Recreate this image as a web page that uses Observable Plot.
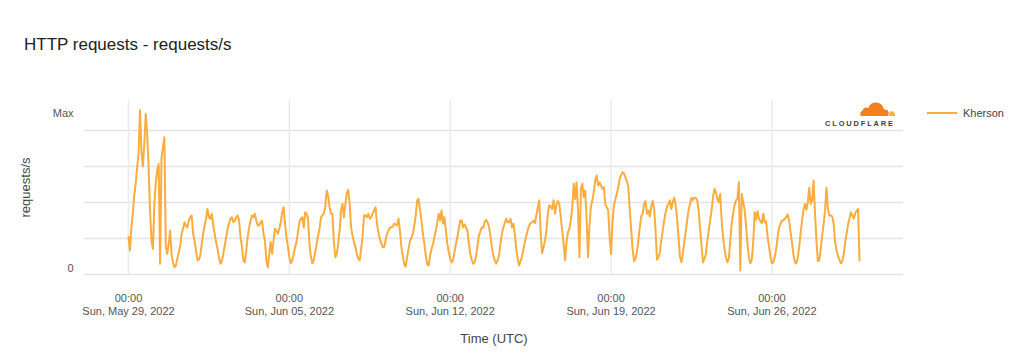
<!DOCTYPE html>
<html><head><meta charset="utf-8">
<script src="https://cdn.jsdelivr.net/npm/d3@7"></script>
<script src="https://cdn.jsdelivr.net/npm/@observablehq/plot@0.6"></script>
<style>
body{margin:0;background:#fff;font-family:"Liberation Sans",Arial,sans-serif;}
#wrap{position:relative;width:1020px;height:360px;overflow:hidden;}
#title{position:absolute;left:24px;top:35px;font-size:17px;color:#222;white-space:nowrap;}
#chart{position:absolute;left:0;top:0;}
#legend{position:absolute;left:927px;top:107px;font-size:11px;color:#444;display:flex;align-items:center;}
#legend .sw{width:30px;height:2px;background:#faad3f;margin-right:6px;}
#logo{position:absolute;left:822px;top:100px;}
</style></head><body>
<div id="wrap">
<div id="title">HTTP requests - requests/s</div>
<div id="chart"></div>
<div id="legend"></div>
<div id="logo">
<svg width="80" height="30" viewBox="0 0 80 30">
<path d="M39,16 L66,16 C68,12 66,9 62,9.5 C61,4.5 57,2 53,2.5 C49,3 47,5.5 46.5,8 C44,6.5 40.5,8 40.5,11 C38.5,11 37.5,13.5 39,16 Z" fill="#f38020"/>
<path d="M66.5,16 L73,16 C73.5,13 71.5,11 69,11.2 C68.4,11.3 68,11.5 67.8,12 C67.6,13.5 67.2,15 66.5,16 Z" fill="#faae40"/>
<text x="3" y="26" font-family="Liberation Sans, Arial, sans-serif" font-size="7.4" font-weight="bold" letter-spacing="1.9" fill="#404041">CLOUDFLARE</text>
</svg>
</div>
</div>
<script>
const seriesName = "Kherson";
const startTime = "2022-05-29T00:00:00Z";
const stepMinutes = 90;
// relative request rate (Max ≈ 4.57), one value every 1.5 hours (UTC), from May 29 00:00
const requests = [
  // May 29
  1.05, 0.67, 1.31, 1.69, 2.2, 2.52, 2.98, 3.35, 4.57, 3.44, 3.0, 3.63, 4.46, 3.91, 2.98, 1.78,
  // May 30
  0.94, 0.71, 1.96, 2.52, 2.89, 3.07, 0.3, 3.26, 3.54, 3.81, 0.76, 0.57, 0.85, 1.22, 0.53, 0.34,
  // May 31
  0.2, 0.25, 0.44, 0.62, 0.8, 1.13, 1.27, 1.45, 1.36, 1.31, 1.5, 1.59, 1.64, 1.13, 0.94, 0.67,
  // Jun 01
  0.39, 0.41, 0.53, 0.85, 1.13, 1.36, 1.55, 1.82, 1.59, 1.55, 1.69, 1.36, 1.13, 0.9, 0.71, 0.48,
  // Jun 02
  0.3, 0.37, 0.57, 0.8, 1.04, 1.27, 1.43, 1.55, 1.59, 1.45, 1.5, 1.59, 1.64, 1.5, 1.04, 0.76,
  // Jun 03
  0.39, 0.34, 0.67, 1.04, 1.31, 1.5, 1.64, 1.59, 1.69, 1.5, 1.36, 1.36, 1.45, 1.5, 1.13, 0.94,
  // Jun 04
  0.39, 0.2, 0.57, 0.9, 0.57, 0.94, 1.27, 1.22, 1.13, 1.27, 1.45, 1.73, 1.87, 1.41, 1.04, 0.76,
  // Jun 05
  0.48, 0.31, 0.39, 0.57, 0.76, 0.9, 1.18, 1.45, 1.55, 1.59, 1.31, 1.73, 1.69, 1.55, 0.85, 0.5,
  // Jun 06
  0.31, 0.39, 0.62, 0.85, 1.08, 1.27, 1.59, 1.64, 1.69, 1.87, 2.33, 2.19, 1.87, 1.69, 1.69, 0.9,
  // Jun 07
  0.48, 0.56, 0.85, 1.22, 1.78, 1.96, 1.59, 1.96, 2.26, 2.35, 1.96, 1.31, 1.08, 0.9, 0.76, 0.57,
  // Jun 08
  0.44, 0.39, 0.71, 1.08, 1.64, 1.64, 1.59, 1.69, 1.55, 1.59, 1.69, 1.78, 1.87, 1.41, 1.18, 0.99,
  // Jun 09
  0.87, 0.76, 0.76, 0.96, 1.13, 1.22, 1.3, 1.31, 1.33, 1.41, 1.39, 1.36, 1.55, 1.22, 0.76, 0.53,
  // Jun 10
  0.28, 0.22, 0.48, 0.71, 0.94, 1.02, 1.13, 1.36, 1.64, 2.06, 2.1, 1.78, 1.5, 1.13, 0.85, 0.53,
  // Jun 11
  0.28, 0.25, 0.53, 0.71, 0.85, 1.04, 1.22, 1.45, 1.69, 1.5, 1.78, 1.41, 1.59, 1.22, 0.85, 0.62,
  // Jun 12
  0.44, 0.34, 0.41, 0.62, 0.85, 1.04, 1.27, 1.5, 1.5, 1.31, 1.39, 1.31, 1.22, 0.85, 0.57, 0.41,
  // Jun 13
  0.3, 0.34, 0.5, 0.8, 1.08, 1.2, 1.31, 1.3, 1.45, 1.52, 1.45, 1.33, 1.08, 0.76, 0.53, 0.39,
  // Jun 14
  0.3, 0.39, 0.53, 0.85, 1.13, 1.3, 1.43, 1.55, 1.45, 1.45, 1.55, 1.31, 1.41, 1.13, 0.71, 0.44,
  // Jun 15
  0.25, 0.37, 0.5, 0.71, 0.9, 1.08, 1.24, 1.36, 1.43, 1.45, 1.5, 1.43, 1.64, 1.87, 2.06, 1.13,
  // Jun 16
  0.59, 0.76, 0.94, 1.22, 1.69, 1.92, 1.89, 1.82, 2.06, 1.69, 1.94, 2.04, 1.96, 1.59, 1.22, 0.85,
  // Jun 17
  0.4, 0.9, 1.18, 1.27, 1.5, 1.87, 2.52, 2.1, 2.56, 1.78, 0.48, 2.38, 2.52, 2.15, 2.33, 1.5,
  // Jun 18
  0.48, 1.36, 1.89, 2.06, 2.29, 2.63, 2.75, 2.47, 2.56, 2.47, 2.38, 2.43, 1.96, 1.87, 1.78, 1.04,
  // Jun 19
  0.57, 1.45, 1.92, 2.09, 2.24, 2.41, 2.65, 2.76, 2.84, 2.81, 2.69, 2.59, 2.43, 1.82, 1.27, 0.71,
  // Jun 20
  0.37, 0.44, 0.62, 0.94, 1.31, 1.61, 1.69, 1.96, 2.04, 1.69, 1.78, 1.61, 1.89, 2.04, 1.82, 1.22,
  // Jun 21
  0.41, 0.48, 0.62, 0.94, 1.22, 1.5, 1.73, 1.89, 1.96, 2.06, 1.82, 2.01, 2.13, 1.92, 1.55, 1.04,
  // Jun 22
  0.48, 0.34, 0.57, 0.9, 1.18, 1.5, 1.8, 1.96, 2.13, 2.07, 2.13, 2.13, 2.06, 1.78, 1.27, 0.81,
  // Jun 23
  0.34, 0.44, 0.56, 0.93, 1.22, 1.5, 1.78, 2.15, 2.38, 2.29, 2.1, 2.01, 2.24, 1.5, 1.04, 0.71,
  // Jun 24
  0.48, 0.34, 0.44, 0.94, 1.41, 1.69, 1.92, 2.06, 2.1, 2.56, 0.11, 2.24, 2.01, 1.8, 1.36, 0.85,
  // Jun 25
  0.46, 0.31, 0.41, 0.9, 1.73, 1.52, 1.76, 1.55, 1.48, 1.43, 1.69, 1.45, 1.48, 1.04, 0.78, 0.5,
  // Jun 26
  0.31, 0.34, 0.48, 0.71, 1.04, 1.3, 1.41, 1.5, 1.5, 1.55, 1.59, 1.67, 1.5, 1.18, 0.87, 0.56,
  // Jun 27
  0.34, 0.31, 0.46, 0.76, 1.15, 1.5, 1.8, 1.96, 1.8, 2.01, 2.41, 1.96, 2.06, 2.61, 1.73, 0.94,
  // Jun 28
  0.37, 0.39, 0.71, 1.08, 1.39, 1.78, 2.41, 1.82, 1.64, 1.64, 1.61, 1.41, 0.9, 0.67, 0.53, 0.41,
  // Jun 29
  0.31, 0.37, 0.56, 0.9, 1.13, 1.39, 1.55, 1.73, 1.64, 1.55, 1.69, 1.78, 1.82, 0.39
];
const xTickDates = ["2022-05-29", "2022-06-05", "2022-06-12", "2022-06-19", "2022-06-26"];
const yGridValues = [0, 1, 2, 3, 4];
const yTickLabels = ["0", "Max"];
const xTitle = "Time (UTC)";
const yTitle = "requests/s";

const lineColor = "#faad3f";
const t0 = new Date(startTime);
const data = requests.map((v, i) => ({t: new Date(+t0 + i * stepMinutes * 60e3), v, name: seriesName}));
const maxV = d3.max(requests);
const xTicks = xTickDates.map(d => new Date(d + "T00:00:00Z"));
const fontFam = "Liberation Sans, Arial, sans-serif";

const chart = Plot.plot({
  width: 1020, height: 360,
  marginTop: 100, marginBottom: 86, marginLeft: 84, marginRight: 117,
  style: {fontFamily: fontFam, fontSize: "11px", background: "transparent", overflow: "visible"},
  x: {type: "utc", domain: d3.extent(data, d => d.t), insetLeft: 44, insetRight: 44},
  y: {domain: [0, 174 / 36]},
  marks: [
    Plot.gridY(yGridValues, {stroke: "#e4e4e4", strokeOpacity: 1, strokeWidth: 1.5}),
    Plot.gridX(xTicks, {stroke: "#ebebeb", strokeOpacity: 1, strokeWidth: 1.5}),
    Plot.axisX(xTicks, {tickSize: 4, stroke: "#ebebeb", strokeWidth: 1.5, tickPadding: 0, dy: 16,
      tickFormat: d3.utcFormat("%H:%M"), fill: "#555", fontSize: 11, label: null}),
    Plot.axisX(xTicks, {tickSize: 0, tickPadding: 0, dy: 33,
      tickFormat: d3.utcFormat("%a, %b %d, %Y"), fill: "#555", fontSize: 11,
      label: xTitle, labelAnchor: "center", labelOffset: 68, labelArrow: "none"}),
    Plot.axisY([0], {tickSize: 0, tickPadding: 11, dy: -6, tickFormat: () => yTickLabels[0], fill: "#555", fontSize: 11, label: null}),
    Plot.axisY([maxV], {tickSize: 0, tickPadding: 11, dy: 3, tickFormat: () => yTickLabels[1], fill: "#555", fontSize: 11,
      label: yTitle, labelAnchor: "center", labelOffset: 64, labelArrow: "none"}),
    Plot.lineY(data, {x: "t", y: "v", stroke: lineColor, strokeWidth: 2, curve: "linear"})
  ]
});
chart.querySelectorAll("[aria-label='x-axis label'] text, [aria-label='y-axis label'] text").forEach(t => {
  t.setAttribute("font-size", "13"); t.setAttribute("fill", "#444");
});
document.getElementById("chart").appendChild(chart);
document.getElementById("legend").innerHTML = `<div class="sw"></div><span>${seriesName}</span>`;
</script>
</body></html>
